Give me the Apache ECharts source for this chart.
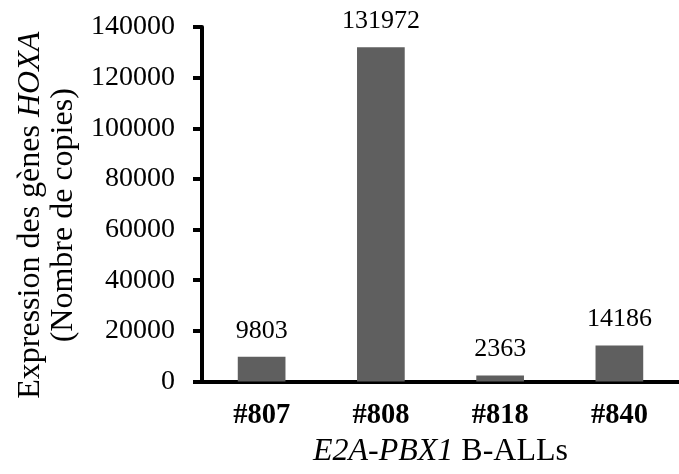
<!DOCTYPE html>
<html>
<head>
<meta charset="utf-8">
<script src="https://cdn.jsdelivr.net/npm/echarts@6/dist/echarts.min.js"></script>
<style>
html,body{margin:0;padding:0;background:#fff;}
#chart{width:679px;height:474px;}
</style>
</head>
<body>
<div id="chart"></div>
<script>
const categories = ['#807', '#808', '#818', '#840'];
const values = [9803, 131972, 2363, 14186];
const yTicks = [0, 20000, 40000, 60000, 80000, 100000, 120000, 140000];

const FONT = '"Liberation Serif", "Times New Roman", serif';
const chart = echarts.init(document.getElementById('chart'), null, {renderer: 'canvas'});
chart.setOption({
  animation: false,
  backgroundColor: '#fff',
  grid: {left: 202, right: -8, top: 27, bottom: 92.5, containLabel: false},
  xAxis: {
    type: 'category',
    data: categories,
    axisLine: {lineStyle: {color: '#000', width: 4}},
    axisTick: {show: false},
    axisLabel: {color: '#000', fontFamily: FONT, fontSize: 28.5, fontWeight: 'bold', margin: 20},
    name: '{i|E2A-PBX1}{n| B-ALLs}',
    nameLocation: 'middle',
    nameGap: 50,
    nameTextStyle: {
      rich: {
        i: {fontFamily: FONT, fontSize: 32, fontStyle: 'italic', color: '#000'},
        n: {fontFamily: FONT, fontSize: 32, color: '#000'}
      }
    }
  },
  yAxis: {
    type: 'value',
    min: yTicks[0],
    max: yTicks[yTicks.length - 1],
    interval: yTicks[1] - yTicks[0],
    splitLine: {show: false},
    axisLine: {show: true, lineStyle: {color: '#000', width: 4}},
    axisTick: {show: true, length: 9, lineStyle: {color: '#000', width: 4}},
    axisLabel: {color: '#000', fontFamily: FONT, fontSize: 28, margin: 27, formatter: v => String(v)},
    name: '{n|Expression des gènes }{i|HOXA}\n{n|(Nombre de copies)}',
    nameLocation: 'middle',
    nameRotate: 90,
    nameGap: 122,
    nameTextStyle: {
      align: 'center',
      lineHeight: 33,
      padding: [0, 22, 0, 0],
      rich: {
        i: {fontFamily: FONT, fontSize: 32, fontStyle: 'italic', color: '#000', lineHeight: 33},
        n: {fontFamily: FONT, fontSize: 32, color: '#000', lineHeight: 33}
      }
    }
  },
  series: [{
    type: 'bar',
    data: values,
    barWidth: '40%',
    itemStyle: {color: '#5f5f5f'},
    label: {
      show: true,
      position: 'top',
      distance: 13,
      color: '#000',
      fontFamily: FONT,
      fontSize: 26
    }
  }]
});
</script>
</body>
</html>
